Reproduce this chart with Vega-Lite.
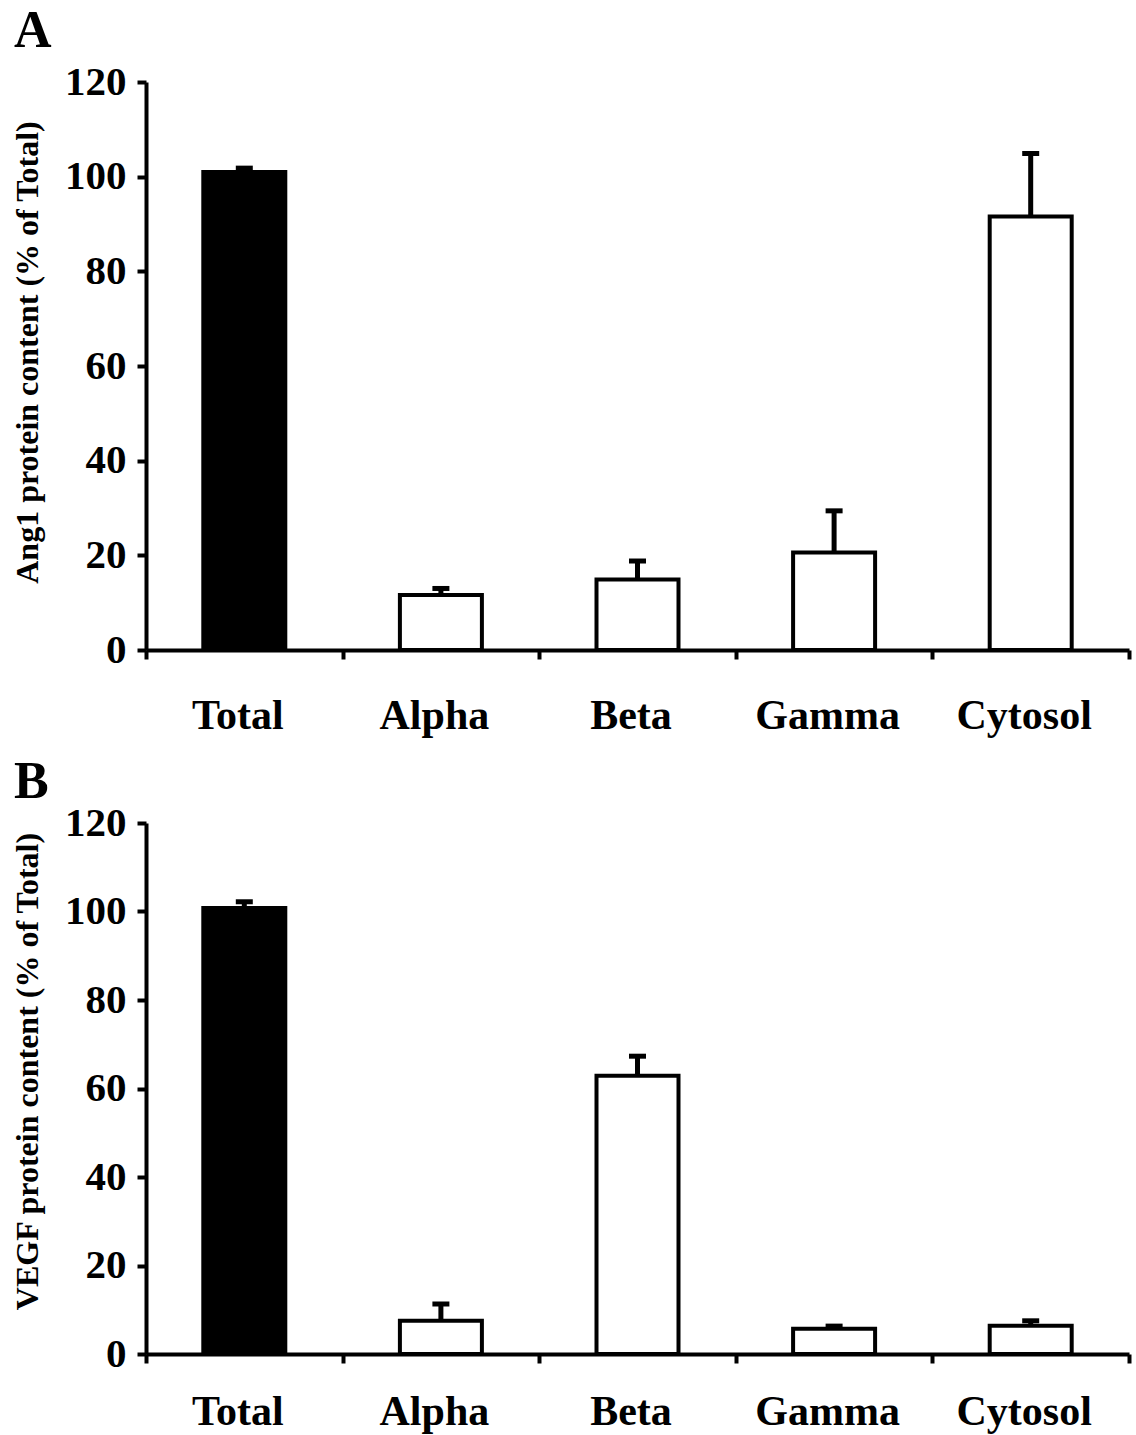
{
  "$schema": "https://vega.github.io/schema/vega-lite/v6.json",
  "background": "white",
  "padding": {"left": 10, "top": 5, "right": 2, "bottom": 2},
  "config": {
    "font": "Liberation Serif",
    "view": {"stroke": null},
    "axis": {
      "labelFont": "Liberation Serif",
      "labelFontWeight": "bold",
      "labelColor": "black",
      "labelFontSize": 41,
      "titleFont": "Liberation Serif",
      "titleFontWeight": "bold",
      "titleColor": "black",
      "titleFontSize": 32,
      "domainColor": "black",
      "domainWidth": 4,
      "tickColor": "black",
      "tickWidth": 4,
      "tickSize": 9,
      "grid": false
    },
    "title": {"font": "Liberation Serif", "fontSize": 52, "fontWeight": "bold", "color": "black", "anchor": "start", "frame": "group", "baseline": "alphabetic"},
    "concat": {"spacing": 20}
  },
  "vconcat": [
    {
      "title": {"text": "A", "dx": -132, "offset": 3},
      "width": 983,
      "height": 568,
      "data": {"values": [
        {"fraction": "Total", "mean": 101.0, "upper": 101.8},
        {"fraction": "Alpha", "mean": 11.6, "upper": 13.0},
        {"fraction": "Beta", "mean": 14.9, "upper": 18.8},
        {"fraction": "Gamma", "mean": 20.6, "upper": 29.4},
        {"fraction": "Cytosol", "mean": 91.6, "upper": 104.9}
      ]},
      "encoding": {
        "x": {"field": "fraction", "type": "nominal", "sort": ["Total", "Alpha", "Beta", "Gamma", "Cytosol"],
          "scale": {"paddingInner": 0, "paddingOuter": 0},
          "axis": {"title": null, "labelAngle": 0, "tickBand": "extent", "labelPadding": 69, "labelBaseline": "alphabetic", "labelFontSize": 42, "labelOffset": -7}}
      },
      "layer": [
        {
          "mark": {"type": "bar", "size": 82, "stroke": "black", "strokeWidth": 4},
          "encoding": {
            "y": {"field": "mean", "type": "quantitative", "scale": {"domain": [0, 120]},
              "axis": {"title": "Ang1 protein content (% of Total)", "values": [0, 20, 40, 60, 80, 100, 120], "labelPadding": 11,
                "titleAngle": -90, "titleX": -109, "titleY": 270, "titleBaseline": "alphabetic", "titleAlign": "center"}},
            "fill": {"condition": {"test": "datum.fraction === 'Total'", "value": "black"}, "value": "white"}
          }
        },
        {
          "mark": {"type": "rule", "strokeWidth": 5, "color": "black"},
          "encoding": {"y": {"field": "mean", "type": "quantitative"}, "y2": {"field": "upper"}}
        },
        {
          "mark": {"type": "tick", "size": 17, "thickness": 5, "color": "black", "opacity": 1},
          "encoding": {"y": {"field": "upper", "type": "quantitative"}}
        }
      ]
    },
    {
      "title": {"text": "B", "dx": -132, "offset": -7},
      "width": 983,
      "height": 531,
      "data": {"values": [
        {"fraction": "Total", "mean": 100.8, "upper": 102.2},
        {"fraction": "Alpha", "mean": 7.5, "upper": 11.3},
        {"fraction": "Beta", "mean": 62.9, "upper": 67.3},
        {"fraction": "Gamma", "mean": 5.7, "upper": 6.3},
        {"fraction": "Cytosol", "mean": 6.4, "upper": 7.5}
      ]},
      "encoding": {
        "x": {"field": "fraction", "type": "nominal", "sort": ["Total", "Alpha", "Beta", "Gamma", "Cytosol"],
          "scale": {"paddingInner": 0, "paddingOuter": 0},
          "axis": {"title": null, "labelAngle": 0, "tickBand": "extent", "labelPadding": 61, "labelBaseline": "alphabetic", "labelFontSize": 42, "labelOffset": -7}}
      },
      "layer": [
        {
          "mark": {"type": "bar", "size": 82, "stroke": "black", "strokeWidth": 4},
          "encoding": {
            "y": {"field": "mean", "type": "quantitative", "scale": {"domain": [0, 120]},
              "axis": {"title": "VEGF protein content (% of Total)", "values": [0, 20, 40, 60, 80, 100, 120], "labelPadding": 11,
                "titleAngle": -90, "titleX": -109, "titleY": 248, "titleBaseline": "alphabetic", "titleAlign": "center"}},
            "fill": {"condition": {"test": "datum.fraction === 'Total'", "value": "black"}, "value": "white"}
          }
        },
        {
          "mark": {"type": "rule", "strokeWidth": 5, "color": "black"},
          "encoding": {"y": {"field": "mean", "type": "quantitative"}, "y2": {"field": "upper"}}
        },
        {
          "mark": {"type": "tick", "size": 17, "thickness": 5, "color": "black", "opacity": 1},
          "encoding": {"y": {"field": "upper", "type": "quantitative"}}
        }
      ]
    }
  ]
}
